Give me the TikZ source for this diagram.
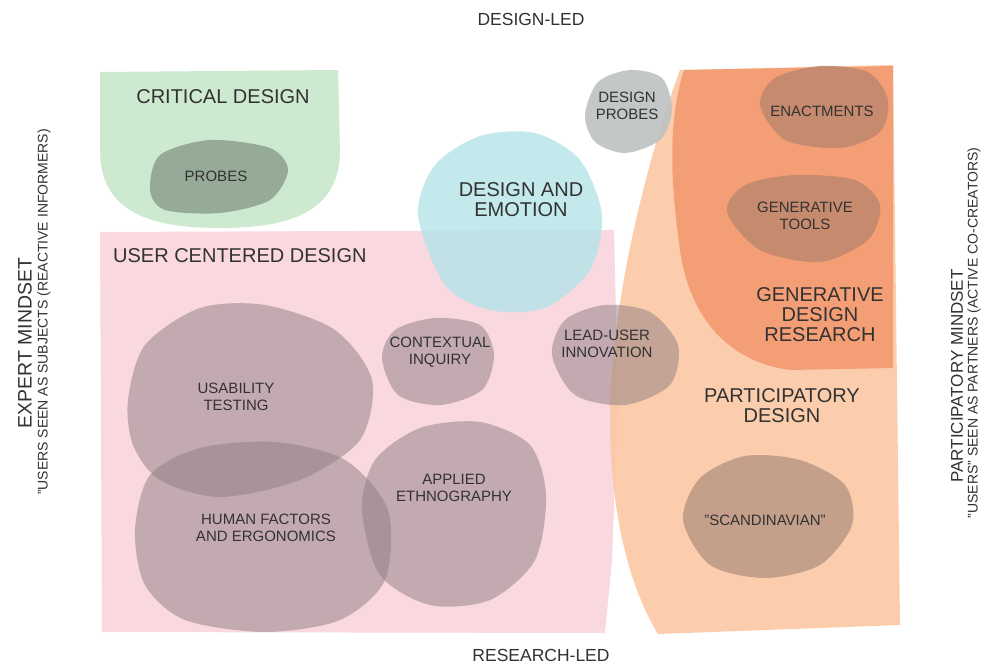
\documentclass[tikz,border=0pt]{standalone}
\usepackage{fontspec}
\setmainfont{Liberation Sans}
\definecolor{txt}{RGB}{50,50,50}
\definecolor{cgreen}{RGB}{205,234,208}
\definecolor{cprobes}{RGB}{150,170,152}
\definecolor{cpink}{RGB}{250,216,224}
\definecolor{ccyan}{RGB}{180,228,232}
\definecolor{cblob}{RGB}{141,125,129}
\definecolor{cdprobe}{RGB}{190,193,194}
\definecolor{clight}{RGB}{252,200,164}
\definecolor{cdark}{RGB}{244,158,118}
\definecolor{cbrown}{RGB}{190,135,110}
\definecolor{cscand}{RGB}{196,160,138}
\tikzset{
  lbl/.style={text=txt, align=center, font=\fontsize{15}{17}\selectfont, inner sep=0pt},
  biglbl/.style={text=txt, align=center, font=\fontsize{20}{20}\selectfont, inner sep=0pt},
  toplbl/.style={text=txt, align=center, font=\fontsize{17.5}{20}\selectfont, inner sep=0pt},
  sidea/.style={text=txt, align=center, inner sep=0pt, rotate=90},
  sideb/.style={text=txt, align=center, font=\fontsize{14}{15}\selectfont, inner sep=0pt, rotate=90},
  blob/.style={fill=cblob, fill opacity=0.5, draw=none},
}
\begin{document}
\begin{tikzpicture}[x=1pt,y=-1pt]
\useasboundingbox (0,0) rectangle (984,666);
\fill[white] (0,0) rectangle (984,666);
% critical design
\fill[cgreen] (100,72) -- (338,70) -- (340,150) .. controls (340,212) and (290,228) .. (220,228) .. controls (150,228) and (100,212) .. (100,150) -- cycle;
\fill[cprobes] plot[smooth cycle] coordinates {(150,190) (160,155) (210,140) (270,148) (288,170) (270,200) (220,213) (165,210)};
% user centered design
\fill[cpink] (100,232) -- (614,230) -- (618,400) -- (612,560) -- (605,633) -- (102,632) -- cycle;
% design and emotion
\fill[ccyan, fill opacity=0.8] plot[smooth cycle] coordinates {(418,215) (435,165) (480,136) (535,133) (580,160) (602,215) (590,270) (545,308) (490,310) (445,285)};
% participatory design region
\fill[clight, fill opacity=0.9] (680,70) -- (893,65) -- (900,625) -- (658,634) .. controls (625,580) and (610,500) .. (610,420) .. controls (610,300) and (650,150) .. (680,70) -- cycle;
\fill[cdark] (684,70) -- (893,66) -- (893,368) -- (790,370) .. controls (730,362) and (690,320) .. (680,250) .. controls (670,180) and (668,120) .. (684,70) -- cycle;
% design probes
\fill[cdprobe, fill opacity=0.9] plot[smooth cycle] coordinates {(585,115) (598,82) (630,70) (662,78) (672,110) (660,140) (625,153) (595,142)};
% generative blobs
\fill[cbrown, fill opacity=0.85] plot[smooth cycle] coordinates {(760,105) (775,78) (820,66) (868,72) (888,100) (880,132) (840,148) (785,140)};
\fill[cbrown, fill opacity=0.85] plot[smooth cycle] coordinates {(727,212) (745,185) (795,175) (855,180) (880,205) (868,240) (820,262) (760,250)};
\fill[cscand] plot[smooth cycle] coordinates {(683,520) (700,478) (745,456) (800,460) (845,485) (852,525) (820,565) (765,578) (710,565)};
% UCD blobs
\fill[blob] plot[smooth cycle] coordinates {(552,355) (565,320) (605,305) (650,312) (678,345) (670,385) (625,405) (575,395)};
\fill[blob] plot[smooth cycle] coordinates {(128,400) (145,345) (200,308) (265,305) (335,330) (372,380) (360,440) (300,480) (220,497) (160,480) (133,445)};
\fill[blob] plot[smooth cycle] coordinates {(135,530) (150,475) (200,448) (275,442) (345,460) (388,510) (385,580) (340,620) (265,632) (185,620) (145,585)};
\fill[blob] plot[smooth cycle] coordinates {(382,358) (395,330) (435,318) (480,325) (494,355) (482,390) (440,405) (398,395)};
\fill[blob] plot[smooth cycle] coordinates {(362,510) (375,460) (420,428) (480,422) (530,445) (546,495) (535,560) (490,600) (430,605) (380,575)};
% labels
\node[toplbl] (dl) at (531,19) {DESIGN-LED};
\node[toplbl] (rl) at (541,655) {RESEARCH-LED};
\node[sidea, font=\fontsize{19.5}{20}\selectfont] (em) at (25,343) {EXPERT MINDSET};
\node[sideb] (ems) at (44,312) {"USERS SEEN AS SUBJECTS (REACTIVE INFORMERS)};
\node[sidea, font=\fontsize{17}{20}\selectfont] (pm) at (957,376) {PARTICIPATORY MINDSET};
\node[sideb] (pms) at (974,333) {"USERS" SEEN AS PARTNERS (ACTIVE CO-CREATORS)};
\node[biglbl] (cd) at (223,97) {CRITICAL DESIGN};
\node[lbl] (pr) at (216,176) {PROBES};
\node[biglbl, anchor=west] (ucd) at (113,256) {USER CENTERED DESIGN};
\node[biglbl] (de) at (521,200) {DESIGN AND\\EMOTION};
\node[lbl] (dp) at (627,106) {DESIGN\\PROBES};
\node[lbl] (en) at (822,111) {ENACTMENTS};
\node[lbl] (gt) at (805,216) {GENERATIVE\\TOOLS};
\node[biglbl] (gdr) at (820,315) {GENERATIVE\\DESIGN\\RESEARCH};
\node[lbl] (lu) at (607,344) {LEAD-USER\\INNOVATION};
\node[biglbl] (pd) at (782,406) {PARTICIPATORY\\DESIGN};
\node[lbl] (sc) at (765,520) {"SCANDINAVIAN"};
\node[lbl] (ut) at (236,397) {USABILITY\\TESTING};
\node[lbl] (ci) at (440,352) {CONTEXTUAL\\INQUIRY};
\node[lbl] (hf) at (266,528) {HUMAN FACTORS\\AND ERGONOMICS};
\node[lbl] (ae) at (454,488) {APPLIED\\ETHNOGRAPHY};
\end{tikzpicture}
\end{document}
